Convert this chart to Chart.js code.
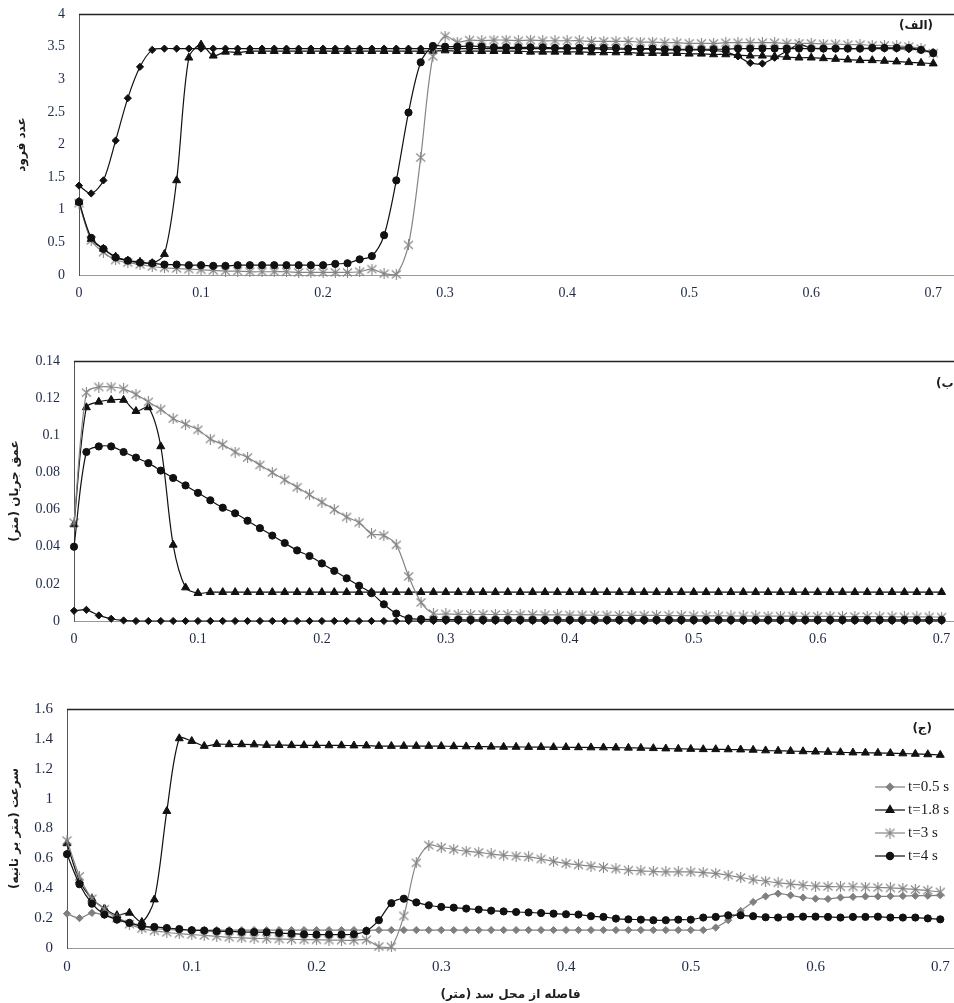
<!DOCTYPE html>
<html>
<head>
<meta charset="utf-8">
<script src="https://cdn.jsdelivr.net/npm/chart.js@4.4.0/dist/chart.umd.min.js"></script>
<style>
  html, body { margin: 0; padding: 0; background: #fff; }
  #wrap { position: relative; width: 954px; height: 1003px; overflow: hidden; background: #fff; }
  #wrap canvas { position: absolute; left: 0; }
</style>
</head>
<body>
<div id="wrap">
  <canvas id="froudeChart" width="954" height="318" style="top:0px"></canvas>
  <canvas id="depthChart" width="954" height="330" style="top:330px"></canvas>
  <canvas id="velocityChart" width="954" height="323" style="top:680px"></canvas>
</div>
<script>
const distance = [
  0, 0.01, 0.02, 0.03, 0.04, 0.05, 0.06, 0.07, 0.08, 0.09,
  0.1, 0.11, 0.12, 0.13, 0.14, 0.15, 0.16, 0.17, 0.18, 0.19,
  0.2, 0.21, 0.22, 0.23, 0.24, 0.25, 0.26, 0.27, 0.28, 0.29,
  0.3, 0.31, 0.32, 0.33, 0.34, 0.35, 0.36, 0.37, 0.38, 0.39,
  0.4, 0.41, 0.42, 0.43, 0.44, 0.45, 0.46, 0.47, 0.48, 0.49,
  0.5, 0.51, 0.52, 0.53, 0.54, 0.55, 0.56, 0.57, 0.58, 0.59,
  0.6, 0.61, 0.62, 0.63, 0.64, 0.65, 0.66, 0.67, 0.68, 0.69,
  0.7
];

const seriesLabels = ["t=0.5 s", "t=1.8 s", "t=3 s", "t=4 s"];

const xTicks = [0, 0.1, 0.2, 0.3, 0.4, 0.5, 0.6, 0.7];
const froudeTicks = [0, 0.5, 1, 1.5, 2, 2.5, 3, 3.5, 4];
const depthTicks = [0, 0.02, 0.04, 0.06, 0.08, 0.1, 0.12, 0.14];
const velocityTicks = [0, 0.2, 0.4, 0.6, 0.8, 1, 1.2, 1.4, 1.6];

// Froude number
const froude05 = [
  1.37, 1.25, 1.45, 2.06, 2.71, 3.19, 3.45, 3.47, 3.47, 3.47,
  3.47, 3.47, 3.47, 3.47, 3.47, 3.47, 3.47, 3.47, 3.47, 3.47,
  3.47, 3.47, 3.47, 3.47, 3.47, 3.47, 3.47, 3.47, 3.47, 3.47,
  3.47, 3.47, 3.47, 3.47, 3.47, 3.47, 3.47, 3.47, 3.47, 3.47,
  3.47, 3.47, 3.47, 3.46, 3.46, 3.46, 3.46, 3.46, 3.45, 3.45,
  3.45, 3.45, 3.44, 3.42, 3.35, 3.25, 3.24, 3.33, 3.43, 3.53,
  3.48, 3.47, 3.47, 3.47, 3.47, 3.47, 3.47, 3.47, 3.46, 3.45,
  3.42
];
const froude18 = [
  1.12, 0.55, 0.40, 0.28, 0.22, 0.20, 0.18, 0.32, 1.45, 3.33,
  3.53, 3.36, 3.42, 3.41, 3.43, 3.43, 3.43, 3.43, 3.43, 3.43,
  3.43, 3.43, 3.43, 3.43, 3.43, 3.43, 3.43, 3.43, 3.43, 3.43,
  3.44, 3.43, 3.43, 3.43, 3.43, 3.43, 3.43, 3.42, 3.42, 3.42,
  3.42, 3.42, 3.41, 3.41, 3.41, 3.41, 3.40, 3.40, 3.40, 3.40,
  3.39, 3.39, 3.38, 3.38, 3.37, 3.36, 3.36, 3.35, 3.34, 3.33,
  3.33, 3.32, 3.31, 3.30, 3.29, 3.29, 3.28, 3.27, 3.26, 3.25,
  3.24
];
const froude3 = [
  1.10, 0.53, 0.35, 0.23, 0.19, 0.16, 0.13, 0.11, 0.10, 0.09,
  0.08, 0.07, 0.06, 0.06, 0.05, 0.05, 0.05, 0.05, 0.04, 0.04,
  0.04, 0.04, 0.04, 0.05, 0.09, 0.02, 0.01, 0.46, 1.80, 3.35,
  3.66, 3.57, 3.60, 3.59, 3.60, 3.60, 3.59, 3.60, 3.59, 3.59,
  3.59, 3.59, 3.58, 3.58, 3.58, 3.58, 3.57, 3.57, 3.56, 3.56,
  3.55, 3.55, 3.55, 3.56, 3.56, 3.56, 3.56, 3.56, 3.55, 3.55,
  3.55, 3.54, 3.54, 3.53, 3.53, 3.52, 3.52, 3.51, 3.50, 3.47,
  3.40
];
const froude4 = [
  1.12, 0.57, 0.40, 0.27, 0.22, 0.19, 0.18, 0.16, 0.16, 0.15,
  0.15, 0.14, 0.14, 0.15, 0.15, 0.15, 0.15, 0.15, 0.15, 0.15,
  0.15, 0.17, 0.18, 0.24, 0.29, 0.61, 1.45, 2.49, 3.26, 3.51,
  3.50, 3.50, 3.51, 3.50, 3.49, 3.49, 3.49, 3.49, 3.49, 3.48,
  3.48, 3.48, 3.48, 3.48, 3.48, 3.47, 3.47, 3.47, 3.46, 3.46,
  3.46, 3.46, 3.46, 3.46, 3.47, 3.47, 3.47, 3.47, 3.47, 3.47,
  3.47, 3.47, 3.47, 3.47, 3.47, 3.48, 3.48, 3.48, 3.48, 3.45,
  3.40
];

// flow depth (m)
const depth05 = [
  0.0055, 0.006, 0.003, 0.0012, 0.0003, 0, 0, 0, 0, 0,
  0, 0, 0, 0, 0, 0, 0, 0, 0, 0,
  0, 0, 0, 0, 0, 0, 0, 0, 0, 0,
  0, 0, 0, 0, 0, 0, 0, 0, 0, 0,
  0, 0, 0, 0, 0, 0, 0, 0, 0, 0,
  0, 0, 0, 0, 0, 0, 0, 0, 0, 0,
  0, 0, 0, 0, 0, 0, 0, 0, 0, 0,
  0
];
const depth18 = [
  0.052, 0.115, 0.118, 0.119, 0.119, 0.113, 0.115, 0.094, 0.041, 0.018,
  0.015, 0.0155, 0.0155, 0.0155, 0.0155, 0.0155, 0.0155, 0.0155, 0.0155, 0.0155,
  0.0155, 0.0155, 0.0155, 0.0155, 0.0155, 0.0155, 0.0155, 0.0155, 0.0155, 0.0155,
  0.0155, 0.0155, 0.0155, 0.0155, 0.0155, 0.0155, 0.0155, 0.0155, 0.0155, 0.0155,
  0.0155, 0.0155, 0.0155, 0.0155, 0.0155, 0.0155, 0.0155, 0.0155, 0.0155, 0.0155,
  0.0155, 0.0155, 0.0155, 0.0155, 0.0155, 0.0155, 0.0155, 0.0155, 0.0155, 0.0155,
  0.0155, 0.0155, 0.0155, 0.0155, 0.0155, 0.0155, 0.0155, 0.0155, 0.0155, 0.0155,
  0.0155
];
const depth3 = [
  0.053, 0.123, 0.126, 0.126, 0.125, 0.122, 0.118, 0.114, 0.109, 0.106,
  0.103, 0.098, 0.095, 0.091, 0.088, 0.084, 0.080, 0.076, 0.072, 0.068,
  0.064, 0.060, 0.056, 0.053, 0.047, 0.046, 0.041, 0.024, 0.010, 0.004,
  0.0038, 0.0036, 0.0035, 0.0035, 0.0035, 0.0035, 0.0034, 0.0034, 0.0033, 0.0033,
  0.0032, 0.0032, 0.0031, 0.0031, 0.003, 0.003, 0.003, 0.003, 0.0029, 0.0029,
  0.0028, 0.0028, 0.0028, 0.0027, 0.0027, 0.0027, 0.0026, 0.0026, 0.0026, 0.0025,
  0.0025, 0.0025, 0.0024, 0.0024, 0.0024, 0.0023, 0.0023, 0.0022, 0.0022, 0.0022,
  0.0021
];
const depth4 = [
  0.040, 0.091, 0.094, 0.094, 0.091, 0.088, 0.085, 0.081, 0.077, 0.073,
  0.069, 0.065, 0.061, 0.058, 0.054, 0.050, 0.046, 0.042, 0.038, 0.035,
  0.031, 0.027, 0.023, 0.019, 0.015, 0.009, 0.004, 0.0014, 0.001, 0.0008,
  0.0007, 0.0007, 0.0006, 0.0006, 0.0006, 0.0006, 0.0006, 0.0006, 0.0006, 0.0006,
  0.0006, 0.0006, 0.0006, 0.0006, 0.0006, 0.0006, 0.0006, 0.0006, 0.0006, 0.0006,
  0.0006, 0.0006, 0.0006, 0.0006, 0.0006, 0.0006, 0.0006, 0.0006, 0.0006, 0.0006,
  0.0006, 0.0006, 0.0006, 0.0006, 0.0006, 0.0006, 0.0006, 0.0006, 0.0006, 0.0006,
  0.0006
];

// velocity (m/s)
const velocity05 = [
  0.23, 0.20, 0.235, 0.22, 0.20, 0.17, 0.15, 0.13, 0.125, 0.12,
  0.12, 0.12, 0.12, 0.12, 0.12, 0.12, 0.12, 0.12, 0.12, 0.12,
  0.12, 0.12, 0.12, 0.12, 0.12, 0.12, 0.12, 0.12, 0.12, 0.12,
  0.12, 0.12, 0.12, 0.12, 0.12, 0.12, 0.12, 0.12, 0.12, 0.12,
  0.12, 0.12, 0.12, 0.12, 0.12, 0.12, 0.12, 0.12, 0.12, 0.12,
  0.12, 0.12, 0.137, 0.186, 0.248, 0.308, 0.346, 0.364, 0.353, 0.338,
  0.33, 0.328, 0.338, 0.342, 0.345, 0.345, 0.347, 0.348, 0.35, 0.35,
  0.353
];
const velocity18 = [
  0.70, 0.45, 0.33, 0.264, 0.219, 0.235, 0.174, 0.324, 0.916, 1.403,
  1.385, 1.352, 1.365, 1.363, 1.363, 1.362, 1.358, 1.358, 1.357, 1.357,
  1.357, 1.356, 1.356, 1.355, 1.355, 1.352, 1.352, 1.352, 1.352, 1.352,
  1.351, 1.35, 1.349, 1.348, 1.347, 1.346, 1.346, 1.345, 1.345, 1.344,
  1.344, 1.343, 1.342, 1.342, 1.341, 1.34, 1.339, 1.337, 1.335, 1.333,
  1.332, 1.33, 1.33, 1.329, 1.328, 1.326, 1.322, 1.32, 1.318, 1.316,
  1.314, 1.312, 1.31, 1.308, 1.307, 1.306, 1.304, 1.302, 1.299, 1.296,
  1.292
];
const velocity3 = [
  0.72, 0.48, 0.33, 0.26, 0.20, 0.16, 0.13, 0.115, 0.105, 0.096,
  0.09, 0.084, 0.078, 0.072, 0.068, 0.065, 0.062, 0.06, 0.058, 0.056,
  0.055, 0.053, 0.052, 0.051, 0.055, 0.01, 0.008, 0.215, 0.57, 0.688,
  0.673, 0.66, 0.648, 0.64, 0.63, 0.621, 0.615, 0.61, 0.596, 0.58,
  0.566, 0.556, 0.548, 0.539, 0.53, 0.521, 0.516, 0.513, 0.51, 0.51,
  0.509, 0.505, 0.499, 0.487, 0.472, 0.458, 0.447, 0.436, 0.428, 0.42,
  0.414, 0.412, 0.41, 0.41, 0.408, 0.405, 0.402, 0.398, 0.392, 0.385,
  0.375
];
const velocity4 = [
  0.628, 0.427, 0.297, 0.224, 0.19, 0.168, 0.145, 0.141, 0.134, 0.127,
  0.119, 0.117, 0.112, 0.111, 0.107, 0.106, 0.105, 0.10, 0.096, 0.092,
  0.09, 0.09, 0.09, 0.092, 0.114, 0.186, 0.30, 0.33, 0.305, 0.286,
  0.275, 0.27, 0.264, 0.257, 0.25, 0.245, 0.241, 0.238, 0.234, 0.23,
  0.226, 0.224, 0.213, 0.208, 0.197, 0.192, 0.19, 0.186, 0.186, 0.19,
  0.19, 0.204, 0.208, 0.219, 0.219, 0.213, 0.206, 0.204, 0.208, 0.21,
  0.21, 0.208, 0.204, 0.208, 0.208, 0.21, 0.204, 0.204, 0.204, 0.198,
  0.192
];

const INK = "#1c1c1c";
const NAVY = "#1e2a47";
const GREY = "#858585";
const SERIF = "'Liberation Serif', 'Times New Roman', serif";
const ARABIC = "'DejaVu Sans', sans-serif";

const rtl = s => "\u202B" + s + "\u202C";
const fmt = v => String(Number(v.toFixed(3)));

function asteriskMarker(color) {
  const c = document.createElement("canvas");
  c.width = 11;
  c.height = 11;
  const g = c.getContext("2d");
  g.strokeStyle = color;
  g.lineWidth = 1.1;
  g.beginPath();
  g.moveTo(1, 1.5); g.lineTo(10, 9.5);
  g.moveTo(10, 1.5); g.lineTo(1, 9.5);
  g.moveTo(5.5, 0); g.lineTo(5.5, 11);
  g.stroke();
  return c;
}

const starMarker = asteriskMarker(GREY);

function series(label, values, marker, color, order) {
  const styles = {
    diamond: { pointStyle: "rectRot", pointRadius: 3.6 },
    triangle: { pointStyle: "triangle", pointRadius: 4.6 },
    star: { pointStyle: starMarker, pointRadius: 5 },
    circle: { pointStyle: "circle", pointRadius: 3.6 }
  };
  return {
    label,
    data: values.map((v, i) => ({ x: distance[i], y: v })),
    borderColor: color,
    backgroundColor: color,
    pointBackgroundColor: color,
    pointBorderColor: color,
    pointBorderWidth: 1,
    borderWidth: 1.2,
    tension: 0.3,
    clip: false,
    order,
    ...styles[marker]
  };
}

function datasets(values, diamondColor) {
  return [
    series(seriesLabels[0], values[0], "diamond", diamondColor, 3),
    series(seriesLabels[1], values[1], "triangle", "#111", 2),
    series(seriesLabels[2], values[2], "star", GREY, 1),
    series(seriesLabels[3], values[3], "circle", "#111", 0)
  ];
}

const topBorder = {
  id: "topBorder",
  afterDraw(chart) {
    const { ctx, chartArea: a } = chart;
    ctx.save();
    ctx.strokeStyle = "#222";
    ctx.lineWidth = 1.4;
    ctx.beginPath();
    ctx.moveTo(a.left, a.top + 0.5);
    ctx.lineTo(a.right, a.top + 0.5);
    ctx.stroke();
    ctx.restore();
  }
};

const panelTag = {
  id: "panelTag",
  afterDraw(chart, args, opts) {
    const ctx = chart.ctx;
    ctx.save();
    ctx.fillStyle = INK;
    ctx.font = "bold 12px " + ARABIC;
    ctx.textAlign = opts.align;
    ctx.textBaseline = "middle";
    ctx.fillText(rtl(opts.text), opts.x, opts.y);
    ctx.restore();
  }
};

const legendBox = {
  id: "legendBox",
  afterDraw(chart, args, opts) {
    const ctx = chart.ctx;
    chart.data.datasets.forEach((ds, i) => {
      const y = opts.top + i * opts.step;
      ctx.save();
      ctx.strokeStyle = ds.borderColor;
      ctx.lineWidth = 1.2;
      ctx.beginPath();
      ctx.moveTo(opts.x, y);
      ctx.lineTo(opts.x + 30, y);
      ctx.stroke();
      ctx.fillStyle = ds.pointBackgroundColor;
      ctx.strokeStyle = ds.pointBorderColor;
      Chart.helpers.drawPoint(ctx, {
        pointStyle: ds.pointStyle,
        radius: ds.pointRadius,
        rotation: 0,
        borderWidth: 1
      }, opts.x + 15, y);
      ctx.fillStyle = INK;
      ctx.font = "15px " + SERIF;
      ctx.textAlign = "left";
      ctx.textBaseline = "middle";
      ctx.fillText(ds.label, opts.x + 33, y);
      ctx.restore();
    });
  }
};

function xScale(max, height, fontSize, title) {
  return {
    type: "linear",
    min: 0,
    max,
    afterBuildTicks: s => { s.ticks = xTicks.map(v => ({ value: v })); },
    afterFit: s => {
      s.height = height;
      s.paddingLeft = 0;
      s.paddingRight = 0;
    },
    grid: { display: false, drawTicks: false },
    border: { display: true, color: "#999", width: 1 },
    ticks: {
      padding: 10,
      color: NAVY,
      maxRotation: 0,
      font: { family: SERIF, size: fontSize },
      callback: v => fmt(v)
    },
    title: {
      display: !!title,
      text: title ? rtl(title) : "",
      color: INK,
      font: { family: ARABIC, size: 12, weight: "bold" },
      padding: { top: 0, bottom: 1 }
    }
  };
}

function yScale(ticks, width, fontSize, title, titlePad) {
  return {
    min: ticks[0],
    max: ticks[ticks.length - 1],
    afterBuildTicks: s => { s.ticks = ticks.map(v => ({ value: v })); },
    afterFit: s => {
      s.width = width;
      s.paddingTop = 0;
      s.paddingBottom = 0;
    },
    grid: { display: false, drawTicks: false },
    border: { display: true, color: "#555", width: 1 },
    ticks: {
      padding: 14,
      color: NAVY,
      font: { family: SERIF, size: fontSize },
      callback: v => fmt(v)
    },
    title: {
      display: true,
      text: rtl(title),
      color: INK,
      font: { family: ARABIC, size: 12, weight: "bold" },
      padding: { top: titlePad, bottom: 0 }
    }
  };
}

function drawPanel(id, cfg) {
  const plugins = [topBorder, panelTag];
  if (cfg.legend) plugins.push(legendBox);
  return new Chart(document.getElementById(id), {
    type: "line",
    data: { datasets: cfg.datasets },
    plugins,
    options: {
      responsive: false,
      animation: false,
      events: [],
      layout: {
        autoPadding: false,
        padding: { top: cfg.top, left: 0, right: 0, bottom: 0 }
      },
      plugins: {
        legend: { display: false },
        tooltip: { enabled: false },
        panelTag: cfg.tag,
        legendBox: cfg.legend || {}
      },
      scales: {
        x: xScale(cfg.xMax, cfg.xHeight, cfg.fontSize, cfg.xTitle),
        y: yScale(cfg.yTicks, cfg.yWidth, cfg.fontSize, cfg.yTitle, cfg.yTitlePad)
      }
    }
  });
}

drawPanel("froudeChart", {
  datasets: datasets([froude05, froude18, froude3, froude4], "#111"),
  top: 14,
  xMax: 0.717,
  xHeight: 43,
  yWidth: 79,
  yTicks: froudeTicks,
  fontSize: 14,
  yTitle: "عدد فرود",
  yTitlePad: 15,
  tag: { text: "(الف)", x: 933, y: 26, align: "right" }
});

drawPanel("depthChart", {
  datasets: datasets([depth05, depth18, depth3, depth4], "#111"),
  top: 31,
  xMax: 0.71,
  xHeight: 39,
  yWidth: 74,
  yTicks: depthTicks,
  fontSize: 14,
  yTitle: "عمق جریان (متر)",
  yTitlePad: 8,
  tag: { text: "(ب)", x: 936, y: 54, align: "left" }
});

drawPanel("velocityChart", {
  datasets: datasets([velocity05, velocity18, velocity3, velocity4], "#7f7f7f"),
  top: 29,
  xMax: 0.711,
  xHeight: 55,
  yWidth: 67,
  yTicks: velocityTicks,
  fontSize: 15,
  yTitle: "سرعت (متر بر ثانیه)",
  yTitlePad: 8,
  xTitle: "فاصله از محل سد (متر)",
  tag: { text: "(ج)", x: 932, y: 49, align: "right" },
  legend: { x: 875, top: 107, step: 23 }
});
</script>
</body>
</html>
